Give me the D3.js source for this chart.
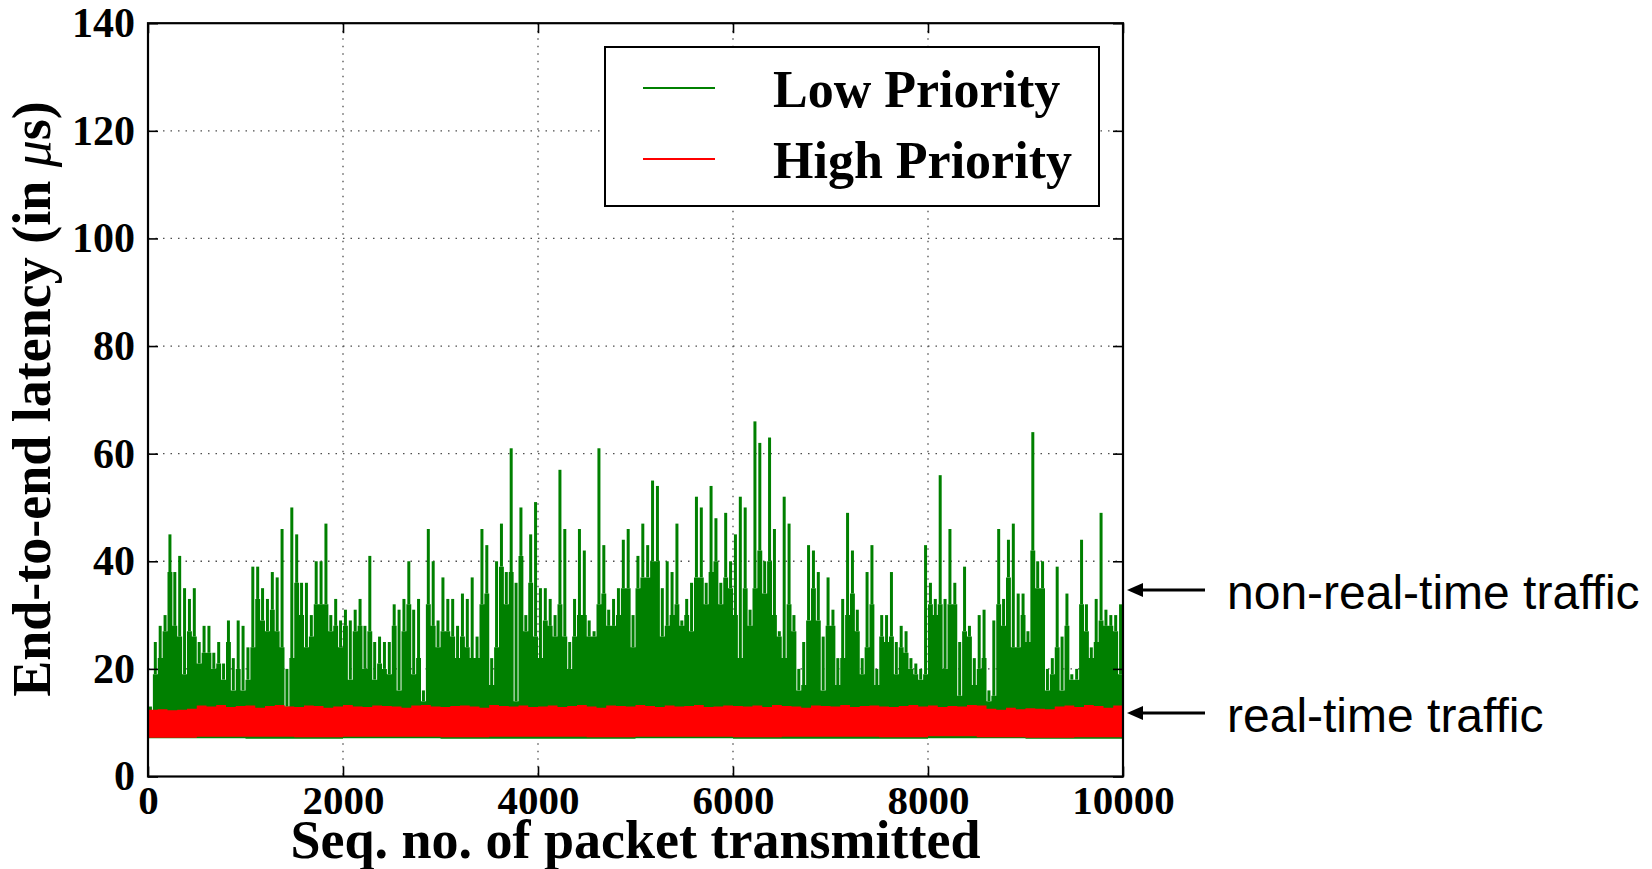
<!DOCTYPE html>
<html>
<head>
<meta charset="utf-8">
<script src="https://cdn.jsdelivr.net/npm/d3@7"></script>
<style>
  html, body { margin: 0; padding: 0; background: #fff; }
  svg { display: block; }
</style>
</head>
<body>
<div id="chart"></div>
<script>
// latencia extremo a extremo por paquete
const xTicks = [0, 2000, 4000, 6000, 8000, 10000];
const yTicks = [0, 20, 40, 60, 80, 100, 120, 140];

// baja prioridad: maximo y "cuerpo" por tramo de 50 paquetes
const lowStep = 50;
const lowPeak = [
  13,25,28,30,45,38,41,35,33,35, 25,28,28,23,25,21,29,22,29,28,
  24,39,39,35,33,38,37,46,20,50, 45,36,36,30,40,40,47,30,33,29,
  31,29,31,33,28,41,25,26,25,25, 32,31,33,40,31,33,16,46,40,29,
  37,33,33,28,34,33,37,26,46,43, 22,40,47,38,61,36,50,30,45,51,
  35,35,33,30,57,46,25,33,46,42, 29,27,61,43,31,33,35,44,46,30,
  41,47,43,55,54,35,40,38,47,29, 33,36,52,50,36,54,48,36,49,40,
  45,52,50,31,66,62,40,63,46,27, 52,47,30,20,25,43,42,38,26,37,
  31,22,33,49,42,31,22,38,43,20, 30,30,38,25,28,27,22,21,20,43,
  36,33,56,33,46,36,25,39,28,22, 30,31,16,29,46,33,44,47,34,34,
  27,64,40,40,20,22,39,26,34,19, 20,44,32,24,33,49,31,30,30,32
];
const lowBody = [
  12,19,22,27,38,28,26,19,27,26, 21,23,23,20,21,18,25,16,20,16,
  18,24,33,29,27,31,27,24,13,22, 36,30,24,26,32,32,32,27,28,24,
  28,18,27,28,20,27,18,21,20,19, 28,16,27,32,19,22,14,32,28,24,
  27,27,26,22,26,24,22,22,32,34, 17,24,39,32,38,14,41,27,36,26,
  22,29,28,26,32,26,20,26,30,30, 26,26,32,34,28,28,30,35,35,24,
  35,37,37,40,40,26,28,30,32,28, 30,27,37,37,32,38,40,32,37,35,
  30,22,35,28,35,42,34,40,30,26, 22,32,27,16,17,29,35,29,16,28,
  28,17,22,30,34,27,19,24,32,17, 26,25,26,19,24,23,20,19,18,19,
  32,30,32,20,32,32,15,27,26,17, 20,22,14,15,32,28,37,24,24,30,
  25,42,35,35,16,19,24,16,28,18, 18,32,27,22,25,29,28,28,27,19
];
// minimo de baja prioridad cada 1000 paquetes
const lowMin = [7.1,7.0,7.1,7.0,7.0,7.1,7.0,7.0,7.1,7.0,7.0];

// alta prioridad: borde superior cada 100 paquetes, inferior cada 500
const highStep = 100;
const highTop = [
  12.4,12.5,12.3,12.4,12.6,13.2,13.0,13.3,12.9,13.1,
  13.2,12.8,13.1,13.3,13.0,12.9,13.2,13.1,12.8,13.0,
  13.3,13.0,12.9,13.2,13.1,13.0,12.8,13.2,13.3,13.0,
  12.9,13.1,13.2,13.0,12.8,13.3,13.1,13.0,13.2,12.9,
  13.0,13.2,12.9,13.1,13.3,13.0,12.8,13.2,13.1,13.0,
  13.3,13.1,12.9,13.2,13.0,13.1,13.3,12.9,13.0,13.2,
  13.1,13.0,13.2,12.9,13.3,13.1,13.0,12.8,13.2,13.1,
  13.0,13.3,12.9,13.1,13.2,13.0,12.9,13.1,13.3,13.0,
  13.2,12.9,13.1,13.0,13.3,13.2,12.6,12.4,12.8,12.5,
  12.7,12.6,12.5,13.0,13.2,12.9,13.3,13.1,12.8,13.2
];
const highBottom = [7.2,7.4,7.4,7.3,7.4,7.4,7.3,7.4,7.4,7.3,7.4,7.4,7.3,7.4,7.4,7.3,7.5,7.3,7.2,7.3,7.3];

const legendNames = ['Low Priority', 'High Priority'];
const legendColors = ['#008000', '#ff0000'];
const notes = ['non-real-time traffic', 'real-time traffic'];

const W = 1652, H = 869;
const serif = '"Liberation Serif", "Times New Roman", serif';
const sans = '"Liberation Sans", Arial, sans-serif';

const svg = d3.select('#chart').append('svg')
  .attr('width', W).attr('height', H)
  .style('background', '#ffffff');

const x = d3.scaleLinear().domain([0, 10000]).range([148, 1123]);
const y = d3.scaleLinear().domain([0, 140]).range([776.5, 23.2]);
const [x0, x1] = x.range();
const [yb, yt] = y.range();

svg.append('defs').append('clipPath').attr('id', 'plot')
  .append('rect').attr('x', x0).attr('y', yt).attr('width', x1 - x0).attr('height', yb - yt);

// rejilla punteada
const grid = svg.append('g').attr('stroke', '#222').attr('stroke-width', 1.3)
  .attr('stroke-dasharray', '1.5,6').attr('opacity', 0.8);
grid.selectAll('line.gx').data(xTicks.slice(1, -1)).enter().append('line')
  .attr('x1', d => x(d)).attr('x2', d => x(d)).attr('y1', yt).attr('y2', yb);
grid.selectAll('line.gy').data(yTicks.slice(1, -1)).enter().append('line')
  .attr('y1', d => y(d)).attr('y2', d => y(d)).attr('x1', x0).attr('x2', x1);

const plot = svg.append('g').attr('clip-path', 'url(#plot)');

// serie verde
const lowBins = lowPeak.map((p, i) => ({ seq: i * lowStep, peak: p, body: lowBody[i] }));
const lowMinAt = s => lowMin[Math.min(lowMin.length - 1, Math.floor(s / 1000))];
const lowArea = d3.area().curve(d3.curveStepAfter)
  .x(d => x(d.seq)).y0(d => y(lowMinAt(d.seq))).y1(d => y(d.body));
plot.append('path')
  .datum(lowBins.concat([{ seq: 10000, body: lowBody[lowBody.length - 1] }]))
  .attr('d', lowArea).attr('fill', '#008000');
plot.append('g').attr('stroke', '#008000').attr('stroke-width', 3)
  .selectAll('line').data(lowBins).enter().append('line')
  .attr('x1', d => x(d.seq + lowStep / 2)).attr('x2', d => x(d.seq + lowStep / 2))
  .attr('y1', d => y(d.body)).attr('y2', d => y(d.peak));

// serie roja
const highBins = highTop.map((t, i) => ({ seq: i * highStep, top: t }));
highBins.push({ seq: 10000, top: highTop[highTop.length - 1] });
const highArea = d3.area().curve(d3.curveStepAfter)
  .x(d => x(d.seq))
  .y0(d => y(highBottom[Math.min(highBottom.length - 1, Math.floor(d.seq / 500))]))
  .y1(d => y(d.top));
plot.append('path').datum(highBins).attr('d', highArea).attr('fill', '#ff0000');

// ejes con marcas hacia dentro
function styleAxis(g, size){
  g.select('.domain').remove();
  g.selectAll('.tick line').attr('stroke', '#000').attr('stroke-width', 1.6);
  g.selectAll('.tick text').attr('font-family', serif).attr('font-weight', 'bold')
    .attr('font-size', size).attr('fill', '#000');
}
svg.append('g').attr('transform', `translate(0,${yb})`)
  .call(d3.axisBottom(x).tickValues(xTicks).tickFormat(d3.format('d')).tickSize(-10).tickPadding(8))
  .call(g => styleAxis(g, 41));
svg.append('g').attr('transform', `translate(${x0},0)`)
  .call(d3.axisLeft(y).tickValues(yTicks).tickFormat(d3.format('d')).tickSize(-10).tickPadding(13))
  .call(g => styleAxis(g, 42));
svg.append('g').attr('transform', `translate(0,${yt})`)
  .call(d3.axisTop(x).tickValues(xTicks).tickFormat('').tickSize(-10))
  .call(g => styleAxis(g, 42));
svg.append('g').attr('transform', `translate(${x1},0)`)
  .call(d3.axisRight(y).tickValues(yTicks).tickFormat('').tickSize(-10))
  .call(g => styleAxis(g, 42));

svg.append('rect').attr('x', x0).attr('y', yt).attr('width', x1 - x0).attr('height', yb - yt)
  .attr('fill', 'none').attr('stroke', '#000').attr('stroke-width', 2.2);

// titulos de ejes
svg.append('text')
  .attr('x', (x0 + x1) / 2).attr('y', 858)
  .attr('text-anchor', 'middle')
  .attr('font-family', serif).attr('font-weight', 'bold').attr('font-size', 54)
  .text('Seq. no. of packet transmitted');

const yl = svg.append('text')
  .attr('transform', 'translate(50,399) rotate(-90)')
  .attr('text-anchor', 'middle')
  .attr('font-family', serif).attr('font-weight', 'bold').attr('font-size', 54);
yl.append('tspan').text('End-to-end latency (in ');
yl.append('tspan').attr('font-style', 'italic').attr('font-weight', 'normal').text('μ');
yl.append('tspan').text('s)');

// leyenda
const lg = svg.append('g');
lg.append('rect').attr('x', 605).attr('y', 47).attr('width', 494).attr('height', 159)
  .attr('fill', '#fff').attr('stroke', '#000').attr('stroke-width', 2);
legendNames.forEach((name, i) => {
  const cy = 88 + i * 71;
  lg.append('line').attr('x1', 643).attr('x2', 715).attr('y1', cy).attr('y2', cy)
    .attr('stroke', legendColors[i]).attr('stroke-width', 2.2);
  lg.append('text').attr('x', 773).attr('y', cy + 19)
    .attr('font-family', serif).attr('font-weight', 'bold').attr('font-size', 52)
    .text(name);
});

// anotaciones con flechas
const ann = svg.append('g');
notes.forEach((t, i) => {
  const ay = i === 0 ? 590 : 713;
  ann.append('line').attr('x1', 1141).attr('x2', 1205).attr('y1', ay).attr('y2', ay)
    .attr('stroke', '#000').attr('stroke-width', 3.2);
  ann.append('path')
    .attr('d', `M ${1127},${ay} L ${1143},${ay - 7} L ${1143},${ay + 7} Z`)
    .attr('fill', '#000');
  ann.append('text').attr('x', 1227).attr('y', ay + 19)
    .attr('font-family', sans).attr('font-size', 48)
    .text(t);
});
</script>
</body>
</html>
